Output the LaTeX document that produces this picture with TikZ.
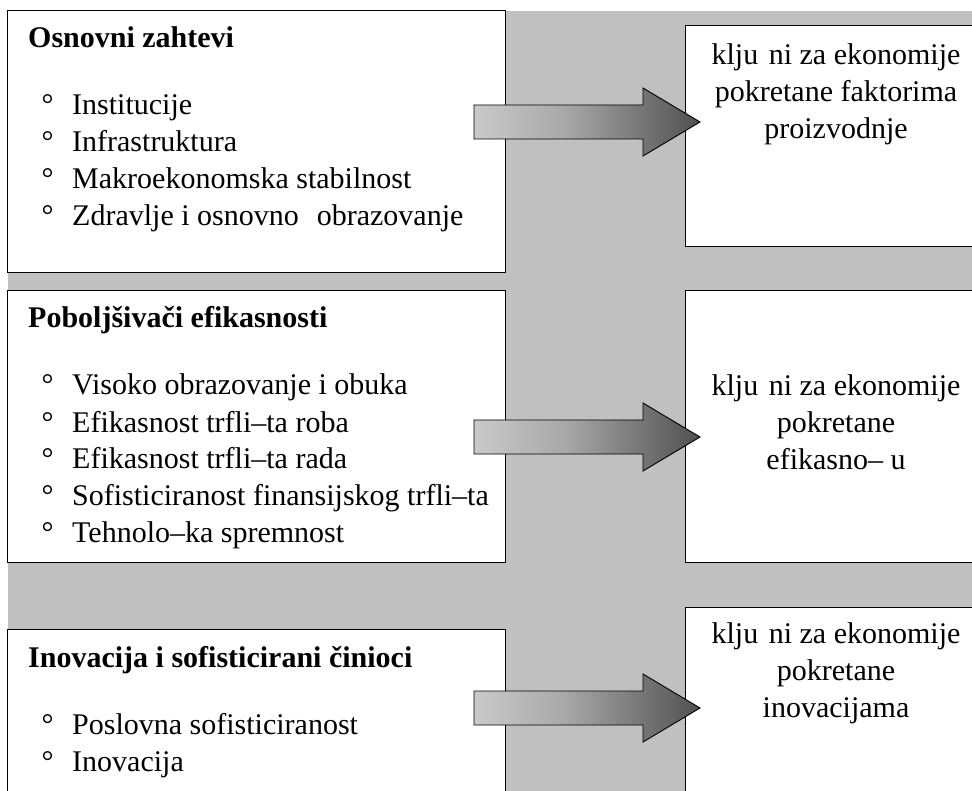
\documentclass[tikz,border=0pt]{standalone}
\usepackage{fontspec}
\setmainfont{Liberation Serif}
\usetikzlibrary{calc}

\definecolor{band}{HTML}{C0C0C0}
\definecolor{arrowlight}{HTML}{CACACA}
\definecolor{arrowmid}{HTML}{A8A8A8}
\definecolor{arrowdark}{HTML}{505050}
\pgfdeclarehorizontalshading{arrowfade}{100bp}{%
  color(0bp)=(arrowlight); color(25bp)=(arrowlight); color(45bp)=(arrowmid);
  color(75bp)=(arrowdark); color(100bp)=(arrowdark)}

\begin{document}
\begin{tikzpicture}[x=1pt,y=-1pt,
  panel/.style={draw=black, line width=1.3pt, fill=white, inner sep=0pt,
    anchor=north west},
  heading/.style={anchor=base west, inner sep=0pt, font=\fontsize{30}{37}\selectfont\bfseries},
  item/.style={anchor=base west, inner sep=0pt, font=\fontsize{30}{37}\selectfont},
  bulletmark/.style={anchor=base west, inner sep=0pt, font=\fontsize{30}{37}\selectfont},
  % anchored at the baseline of the last of the three lines
  result/.style={anchor=base, inner sep=0pt, align=center,
    font=\fontsize{30}{37}\selectfont},
  blockarrow/.pic={
    \path[draw=black, line width=0.9pt, shading=arrowfade]
      (-226,-17) -- (-57,-17) -- (-57,-34) -- (0,0) -- (-57,34)
      -- (-57,17) -- (-226,17) -- cycle;
  }]
\useasboundingbox (0,0) rectangle (972,791);

% grey band behind the panels
\fill[band] (8,11) rectangle (972,795);

% left panels: groups of pillars
\node[panel, minimum width=498, minimum height=262] (g1) at (7,10) {};
\node[panel, minimum width=498, minimum height=272] (g2) at (7,290) {};
\node[panel, minimum width=498, minimum height=200] (g3) at (7,629) {};

% right panels: stage of the economy
\node[panel, minimum width=310, minimum height=221] (s1) at (685,25) {};
\node[panel, minimum width=310, minimum height=272] (s2) at (685,290) {};
\node[panel, minimum width=310, minimum height=200] (s3) at (685,607) {};

% first group
\node[heading] (h1) at (28,48) {Osnovni zahtevi};
\foreach \y/\t [count=\i] in {115/Institucije, 152/Infrastruktura,
    189/Makroekonomska stabilnost,
    226/{Zdravlje i osnovno\hspace{0.6em}obrazovanje}} {
  \node[bulletmark] (b1\i) at (41.5,\y) {°};
  \node[item] (i1\i) at (72,\y) {\t};
}

% second group
\node[heading] (h2) at (28,328) {Poboljšivači efikasnosti};
\foreach \y/\t [count=\i] in {395/Visoko obrazovanje i obuka,
    432/Efikasnost trfli–ta roba, 468/Efikasnost trfli–ta rada,
    505/Sofisticiranost finansijskog trfli–ta, 542/Tehnolo–ka spremnost} {
  \node[bulletmark] (b2\i) at (41.5,\y) {°};
  \node[item] (i2\i) at (72,\y) {\t};
}

% third group
\node[heading] (h3) at (28,667) {Inovacija i sofisticirani činioci};
\foreach \y/\t [count=\i] in {734/Poslovna sofisticiranost, 771/Inovacija} {
  \node[bulletmark] (b3\i) at (41.5,\y) {°};
  \node[item] (i3\i) at (72,\y) {\t};
}

% stage descriptions
\node[result] (t1) at (836,139)
  {klju\hspace{0.35em}ni za ekonomije\\pokretane faktorima\\proizvodnje};
\node[result] (t2) at (836,469)
  {klju\hspace{0.35em}ni za ekonomije\\pokretane\\efikasno– u};
\node[result] (t3) at (836,717)
  {klju\hspace{0.35em}ni za ekonomije\\pokretane\\inovacijama};

% block arrows from each group into its stage
\coordinate (p1) at ($(s1.west |- 0,122)+(15,0)$);
\coordinate (p2) at ($(s2.west |- 0,437)+(15,0)$);
\coordinate (p3) at ($(s3.west |- 0,708)+(15,0)$);
\pic at (p1) {blockarrow};
\pic at (p2) {blockarrow};
\pic at (p3) {blockarrow};
\end{tikzpicture}
\end{document}
